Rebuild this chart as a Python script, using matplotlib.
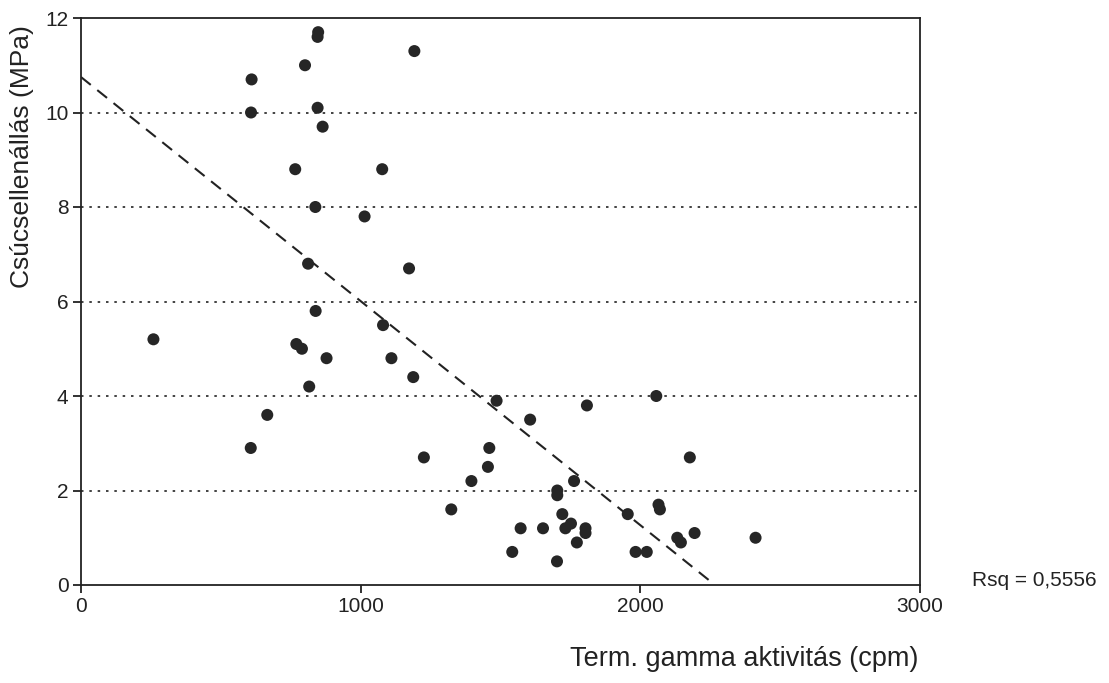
import numpy as np
import matplotlib
matplotlib.use("Agg")
import matplotlib.pyplot as plt

# --- adatok ---
gamma = [259, 607, 666, 610, 608, 766, 770, 790, 801, 812, 816, 838, 839,
         846, 848, 846, 864, 878, 1014, 1077, 1080, 1110, 1173, 1188, 1192,
         1226, 1324, 1396, 1455, 1460, 1486, 1542, 1572, 1606, 1652, 1702,
         1703, 1703, 1721, 1732, 1752, 1763, 1773, 1804, 1804, 1809, 1955,
         1983, 2023, 2057, 2065, 2070, 2132, 2145, 2177, 2194, 2412]
csucs = [5.2, 2.9, 3.6, 10.7, 10.0, 8.8, 5.1, 5.0, 11.0, 6.8, 4.2, 8.0, 5.8,
         11.6, 11.7, 10.1, 9.7, 4.8, 7.8, 8.8, 5.5, 4.8, 6.7, 4.4, 11.3,
         2.7, 1.6, 2.2, 2.5, 2.9, 3.9, 0.7, 1.2, 3.5, 1.2, 0.5,
         2.0, 1.9, 1.5, 1.2, 1.3, 2.2, 0.9, 1.2, 1.1, 3.8, 1.5,
         0.7, 0.7, 4.0, 1.7, 1.6, 1.0, 0.9, 2.7, 1.1, 1.0]

# illesztett egyenes (tengelymetszet, meredekség) és R^2
tengelymetszet = 10.75
meredekseg = -0.004742
rsq_szoveg = "Rsq = 0,5556"

x_ticks = [0, 1000, 2000, 3000]
y_ticks = [0, 2, 4, 6, 8, 10, 12]

plt.rcParams['font.family'] = ['Liberation Sans', 'DejaVu Sans']
szin = '#222222'

W, H = 1109, 683
fig = plt.figure(figsize=(W / 100, H / 100), dpi=100)
ax = fig.add_axes([81 / W, 1 - 585 / H, (920 - 81) / W, (585 - 18) / H])

# vízszintes pontozott rácsvonalak
for yv in y_ticks[1:-1]:
    ax.axhline(yv, color=szin, lw=1.2, ls=(0, (1.5, 3.5)), zorder=1)

# regressziós egyenes (y=0-ig)
x_veg = -tengelymetszet / meredekseg
xs = np.array([0, x_veg])
ax.plot(xs, tengelymetszet + meredekseg * xs, color=szin, lw=1.5,
        ls=(0, (6, 4)), zorder=2)

ax.scatter(gamma, csucs, s=75, color='#262626', edgecolors='none', zorder=3)

ax.set_xlim(0, 3000)
ax.set_ylim(0, 12)
ax.set_xticks(x_ticks)
ax.set_yticks(y_ticks)
ax.tick_params(direction='out', length=6, width=1.3, colors=szin,
               labelsize=15, pad=3)
for s in ax.spines.values():
    s.set_color(szin)
    s.set_linewidth(1.3)

fig.text(22 / W, 1 - 157 / H, "Csúcsellenállás (MPa)", rotation=90,
         ha='center', va='center', fontsize=19, color=szin)
fig.text(918 / W, 1 - 659 / H, "Term. gamma aktivitás (cpm)",
         ha='right', va='center', fontsize=19.5, color=szin)
fig.text(972 / W, 1 - 580 / H, rsq_szoveg, ha='left', va='center',
         fontsize=15, color=szin)

fig.savefig("out.png", dpi=100)
